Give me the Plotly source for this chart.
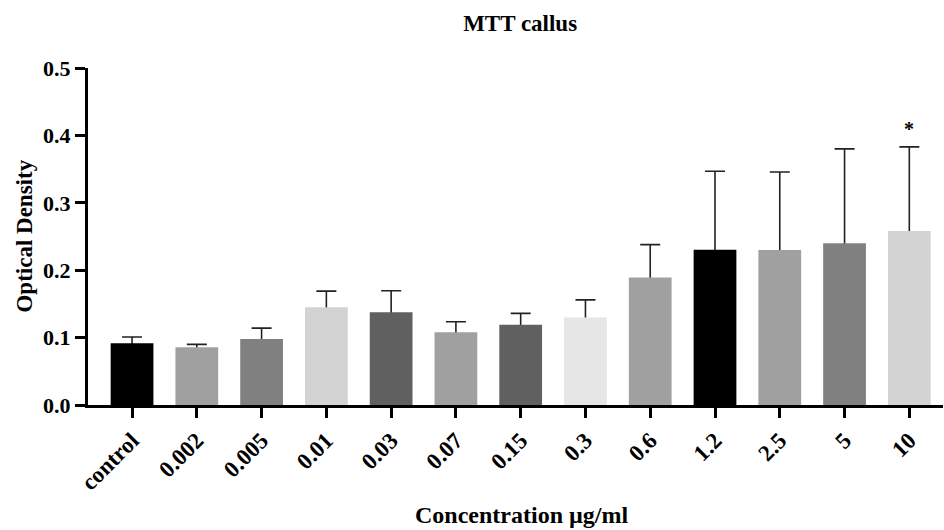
import plotly.graph_objects as go

categories = ["control", "0.002", "0.005", "0.01", "0.03", "0.07", "0.15",
              "0.3", "0.6", "1.2", "2.5", "5", "10"]
means = [0.0915, 0.0856, 0.098, 0.145, 0.1375, 0.108, 0.119,
         0.130, 0.189, 0.2304, 0.230, 0.240, 0.258]
upper = [0.101, 0.090, 0.114, 0.169, 0.1696, 0.1236, 0.136,
         0.156, 0.238, 0.3467, 0.3457, 0.380, 0.383]
colors = ["#000000", "#a0a0a0", "#808080", "#d3d3d3", "#606060", "#a0a0a0", "#606060",
          "#e6e6e6", "#a0a0a0", "#000000", "#a0a0a0", "#808080", "#d3d3d3"]
sig_category = "10"
sig_label = "*"

err = [u - m for u, m in zip(upper, means)]

FONT = "Liberation Serif"

fig = go.Figure()
# error bars drawn first (transparent bars) so the visible bars hide the lower part
fig.add_trace(go.Bar(
    x=categories, y=means,
    marker=dict(color="rgba(0,0,0,0)", line=dict(width=0)),
    width=0.66,
    error_y=dict(type="data", symmetric=False, array=err, arrayminus=means,
                 color="#222222", thickness=1.6, width=10),
    hoverinfo="skip",
))
fig.add_trace(go.Bar(
    x=categories, y=means,
    marker=dict(color=colors, line=dict(width=0)),
    width=0.66,
))

sig_idx = categories.index(sig_category)
fig.add_annotation(x=sig_idx, y=upper[sig_idx], text="<b>" + sig_label + "</b>",
                   showarrow=False, yanchor="bottom", yshift=5,
                   font=dict(family=FONT, size=20, color="black"))

fig.add_annotation(text="<b>Concentration µg/ml</b>", xref="paper", yref="paper",
                   x=0.507, y=-0.368, xanchor="center", yanchor="bottom", showarrow=False,
                   borderpad=0,
                   font=dict(family=FONT, size=24, color="black"))
fig.add_annotation(text="<b>Optical Density</b>", xref="paper", yref="paper",
                   x=-0.0748, y=0.5, xanchor="center", yanchor="middle", showarrow=False,
                   textangle=-90,
                   font=dict(family=FONT, size=23, color="black"))

fig.update_layout(
    width=944, height=530,
    margin=dict(l=88, r=1, t=68, b=125),
    paper_bgcolor="white", plot_bgcolor="white",
    showlegend=False,
    barmode="overlay",
    title=dict(text="<b>MTT callus</b>", x=0.551, xanchor="center", y=0.957, yanchor="middle",
               font=dict(family=FONT, size=23, color="black")),
    xaxis=dict(
        type="category", range=[-0.68, 12.52],
        showline=True, linecolor="black", linewidth=3,
        ticks="outside", ticklen=10, tickwidth=3, tickcolor="black",
        tickangle=-45, showgrid=False, zeroline=False,
        tickfont=dict(family=FONT, size=23, color="black"),
    ),
    yaxis=dict(
        range=[0, 0.5], dtick=0.1, tickformat=".1f",
        showline=True, linecolor="black", linewidth=3,
        ticks="outside", ticklen=10, tickwidth=3, tickcolor="black",
        showgrid=False, zeroline=False,
        tickfont=dict(family=FONT, size=22, color="black"),
    ),
)
fig.update_xaxes(tickprefix="<b>", ticksuffix="</b>")
fig.update_yaxes(tickprefix="<b>", ticksuffix="</b>")

fig.write_html("out.html")
